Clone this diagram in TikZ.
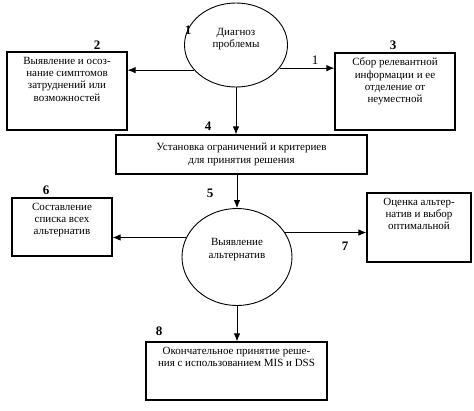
\documentclass[tikz,border=0pt]{standalone}
\usepackage{fontspec}
\setmainfont{Liberation Serif}
\usepackage{tikz}
\usetikzlibrary{positioning, arrows.meta, shapes.geometric}

% text block set at the top of a box of given size
\newcommand{\topbox}[3]{\parbox[c][#2][t]{#1}{\centering\vspace*{5pt}#3}}

\begin{document}
\begin{tikzpicture}[
  x=1pt, y=-1pt,
  font=\fontsize{11}{12.3}\selectfont,
  box/.style={draw, line width=1.2pt, inner sep=0pt},
  oval/.style={draw, ellipse, line width=0.9pt, align=center, inner sep=0pt},
  num/.style={font=\bfseries\fontsize{13}{15}\selectfont},
  arr/.style={-{Latex[length=8pt, width=6.5pt]}, line width=0.9pt},
]
  \useasboundingbox (0,0) rectangle (474,410);

  % Ellipses
  \node[oval, minimum width=103pt, minimum height=84pt] (diag) at (236,45)
    {Диагноз\\проблемы\\[2pt]};
  \node[oval, minimum width=110pt, minimum height=97pt] (alt) at (237,257)
    {Выявление\\альтернатив\\[5pt]};

  % Boxes
  \node[box] (symp) at (67,91) {\topbox{120pt}{78pt}{Выявление и осоз-\\нание симптомов\\затруднений или\\возможностей}};
  \node[box] (info) at (395,91.5) {\topbox{120pt}{77pt}{Сбор релевантной\\информации и ее\\отделение от\\неуместной}};
  \node[box, minimum width=251pt, minimum height=39pt, align=center] (limits) at (241.5,154.5)
    {Установка ограничений и критериев\\для принятия решения};
  \node[box] (list) at (62,227) {\topbox{100pt}{58pt}{Составление\\списка всех\\альтернатив}};
  \node[box] (best) at (419,227.5) {\topbox{104pt}{69pt}{Оценка альтер-\\натив и выбор\\оптимальной}};
  \node[box] (final) at (236.5,371) {\topbox{181pt}{58pt}{Окончательное принятие реше-\\ния с использованием MIS и DSS}};

  % Connectors
  \draw[arr] (diag.211) -- (diag.211 -| symp.east);
  \draw[arr] (diag.332) -- (diag.332 -| info.west);
  \draw[arr] (diag.south) -- (diag.south |- limits.north);
  \draw[arr] (alt.north |- limits.south) -- (alt.north);
  \draw[arr] (alt.159) -- (alt.159 -| list.east);
  \draw[arr] (alt.27) -- (alt.27 -| best.west);
  \draw[arr] (alt.south) -- (alt.south |- final.north);

  % Step numbers
  \node[num] (n1) at (188,30) {1};
  \node[num] (n2) at (97,45) {2};
  \node[num] (n3) at (393,45) {3};
  \node[font=\fontsize{13}{15}\selectfont] (n1b) at (315,60) {1};
  \node[num] (n4) at (208,126) {4};
  \node[num] (n5) at (210,193) {5};
  \node[num] (n6) at (46,190) {6};
  \node[num] (n7) at (345,246) {7};
  \node[num] (n8) at (159,331) {8};
\end{tikzpicture}
\end{document}
